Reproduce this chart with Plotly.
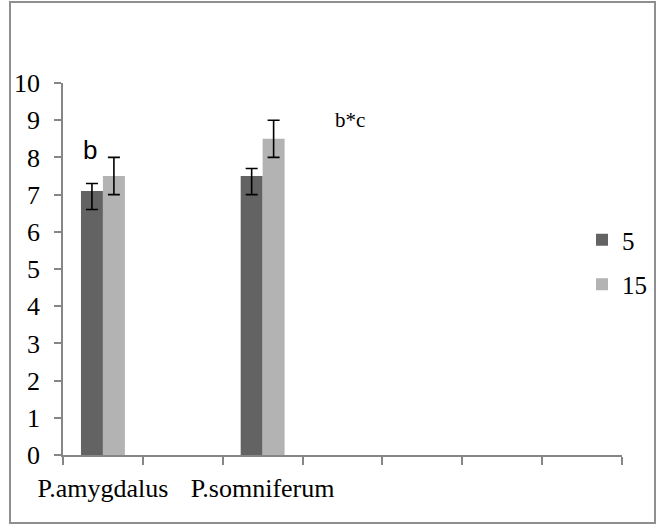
import plotly.graph_objects as go

categories = ["P.amygdalus", "P.somniferum"]
axis_slots = ["P.amygdalus", " ", "P.somniferum", "  ", "   ", "    ", "     "]
series_names = ["5", "15"]
values_5 = [7.1, 7.5]
err_up_5 = [0.2, 0.2]
err_down_5 = [0.5, 0.5]
values_15 = [7.5, 8.5]
err_up_15 = [0.5, 0.5]
err_down_15 = [0.5, 0.5]
y_ticks = list(range(0, 11))

W, H = 657, 529
L, R, T, B = 63, 35, 83, 74
pw, ph = W - L - R, H - T - B

def px_x(p):
    return (p - L) / pw

def px_y(p):
    return (H - B - p) / ph

serif = "Liberation Serif"
axis_col = "#868686"

fig = go.Figure()
fig.add_trace(go.Bar(
    x=categories, y=values_5, name=series_names[0], marker_color="#636363",
    marker_line_width=0, legendgroup="a",
    error_y=dict(type="data", array=err_up_5, arrayminus=err_down_5, symmetric=False,
                 color="black", thickness=1.6, width=6),
))
fig.add_trace(go.Bar(
    x=categories, y=values_15, name=series_names[1], marker_color="#b3b3b3",
    marker_line_width=0, legendgroup="b",
    error_y=dict(type="data", array=err_up_15, arrayminus=err_down_15, symmetric=False,
                 color="black", thickness=1.6, width=6),
))

fig.update_layout(
    width=W, height=H,
    margin=dict(l=L, r=R, t=T, b=B, autoexpand=False),
    paper_bgcolor="white", plot_bgcolor="white",
    barmode="group", bargap=0.45, bargroupgap=0,
    font=dict(family=serif, size=26, color="black"),
    showlegend=True,
    legend=dict(x=px_x(582), y=px_y(217), xanchor="left", yanchor="top",
                font=dict(size=25, family=serif, color="black"), tracegroupgap=9,
                traceorder="grouped", bgcolor="rgba(0,0,0,0)"),
    xaxis=dict(type="category", categoryorder="array", categoryarray=axis_slots,
               range=[-0.5, len(axis_slots) - 0.5], tickson="boundaries",
               ticks="outside", ticklen=8, tickcolor=axis_col, tickwidth=1.5,
               showline=True, linecolor=axis_col, linewidth=1.5, showgrid=False,
               tickangle=0, ticklabelstandoff=9,
               tickfont=dict(size=26, family=serif, color="black"),
               fixedrange=True, zeroline=False),
    yaxis=dict(range=[0, 10], tickvals=y_ticks, ticks="outside", ticklen=7,
               tickcolor=axis_col, tickwidth=1.5, showline=True, linecolor=axis_col,
               linewidth=1.5, showgrid=False, zeroline=False, ticklabelstandoff=9,
               tickfont=dict(size=26, family=serif, color="black"), fixedrange=True),
)

fig.add_annotation(x=px_x(90), y=px_y(150), xref="paper", yref="paper", text="b",
                   xanchor="center", yanchor="middle", showarrow=False,
                   font=dict(family="Liberation Sans", size=26, color="black"))
fig.add_annotation(x=px_x(350), y=px_y(120), xref="paper", yref="paper", text="b*c",
                   xanchor="center", yanchor="middle", showarrow=False,
                   font=dict(family=serif, size=21, color="black"))

fig.add_shape(type="rect", xref="paper", yref="paper",
              x0=px_x(10), x1=px_x(655), y0=px_y(523), y1=px_y(2),
              line=dict(color="#8f8f8f", width=2), fillcolor="rgba(0,0,0,0)", layer="below")

fig.write_html("out.html", config={"displayModeBar": False},
               post_script="document.body.style.margin='0';")
